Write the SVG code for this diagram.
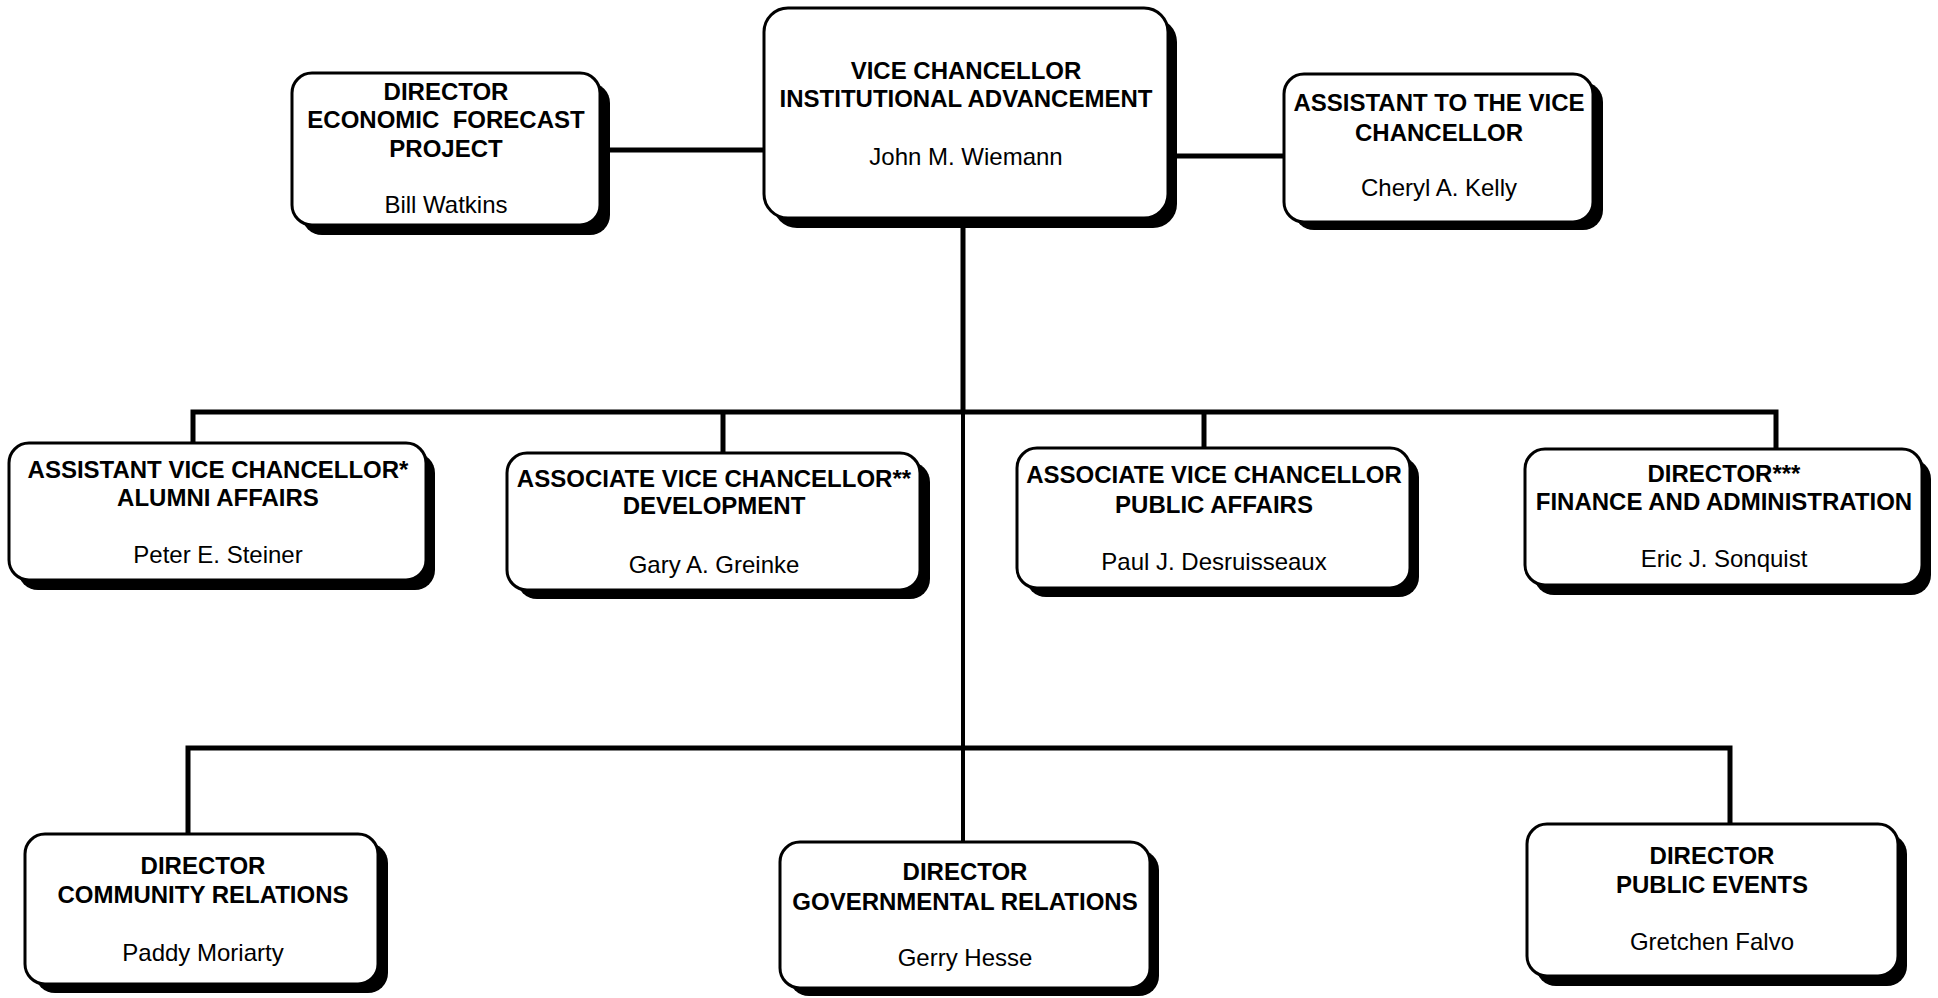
<svg xmlns="http://www.w3.org/2000/svg" width="1938" height="998" viewBox="0 0 1938 998">
<style>
.sh{fill:#000}
.bx{fill:#fff;stroke:#000;stroke-width:3}
.t{font-family:"Liberation Sans",Arial,sans-serif;font-size:24px;font-weight:bold;fill:#000;text-anchor:middle}
.n{font-family:"Liberation Sans",Arial,sans-serif;font-size:24px;fill:#000;text-anchor:middle}
.c{fill:none;stroke:#000;stroke-width:5;stroke-linejoin:miter;stroke-linecap:butt}
</style>
<rect width="1938" height="998" fill="#fff"/>
<g id="connectors">
<path class="c" d="M600,150 H764"/>
<path class="c" d="M1168,156 H1284"/>
<path class="c" d="M963,218 V412" style="stroke-width:5"/>
<path class="c" d="M963,412 V842" style="stroke-width:4"/>
<path class="c" d="M193,443 V412 H1776 V449"/>
<path class="c" d="M723,412 V453"/>
<path class="c" d="M1204,412 V448"/>
<path class="c" d="M188,834 V748 H1730 V824"/>
</g>
<g id="econ">
<rect class="sh" x="302" y="83" width="308" height="152" rx="20"/>
<rect class="bx" x="292" y="73" width="308" height="152" rx="20"/>
<text class="t" x="446" y="100">DIRECTOR</text>
<text class="t" x="446" y="128" xml:space="preserve">ECONOMIC  FORECAST</text>
<text class="t" x="446" y="157">PROJECT</text>
<text class="n" x="446" y="213">Bill Watkins</text>
</g>
<g id="vc">
<rect class="sh" x="773" y="18" width="404" height="210" rx="24"/>
<rect class="bx" x="764" y="8" width="404" height="210" rx="24"/>
<text class="t" x="966" y="79">VICE CHANCELLOR</text>
<text class="t" x="966" y="107">INSTITUTIONAL ADVANCEMENT</text>
<text class="n" x="966" y="165">John M. Wiemann</text>
</g>
<g id="asst">
<rect class="sh" x="1294" y="82" width="309" height="148" rx="20"/>
<rect class="bx" x="1284" y="74" width="309" height="148" rx="20"/>
<text class="t" x="1439" y="111">ASSISTANT TO THE VICE</text>
<text class="t" x="1439" y="141">CHANCELLOR</text>
<text class="n" x="1439" y="196">Cheryl A. Kelly</text>
</g>
<g id="alumni">
<rect class="sh" x="18" y="453" width="417" height="137" rx="20"/>
<rect class="bx" x="9" y="443" width="417" height="137" rx="20"/>
<text class="t" x="218" y="478">ASSISTANT VICE CHANCELLOR*</text>
<text class="t" x="218" y="506">ALUMNI AFFAIRS</text>
<text class="n" x="218" y="563">Peter E. Steiner</text>
</g>
<g id="dev">
<rect class="sh" x="517" y="462" width="413" height="137" rx="20"/>
<rect class="bx" x="507" y="453" width="413" height="137" rx="20"/>
<text class="t" x="714" y="487">ASSOCIATE VICE CHANCELLOR**</text>
<text class="t" x="714" y="514">DEVELOPMENT</text>
<text class="n" x="714" y="573">Gary A. Greinke</text>
</g>
<g id="pubaff">
<rect class="sh" x="1026" y="457" width="393" height="140" rx="20"/>
<rect class="bx" x="1017" y="448" width="393" height="140" rx="20"/>
<text class="t" x="1214" y="483">ASSOCIATE VICE CHANCELLOR</text>
<text class="t" x="1214" y="513">PUBLIC AFFAIRS</text>
<text class="n" x="1214" y="570">Paul J. Desruisseaux</text>
</g>
<g id="finance">
<rect class="sh" x="1534" y="459" width="397" height="136" rx="20"/>
<rect class="bx" x="1525" y="449" width="397" height="136" rx="20"/>
<text class="t" x="1724" y="482">DIRECTOR***</text>
<text class="t" x="1724" y="510">FINANCE AND ADMINISTRATION</text>
<text class="n" x="1724" y="567">Eric J. Sonquist</text>
</g>
<g id="community">
<rect class="sh" x="35" y="843" width="353" height="150" rx="20"/>
<rect class="bx" x="25" y="834" width="353" height="150" rx="20"/>
<text class="t" x="203" y="874">DIRECTOR</text>
<text class="t" x="203" y="903">COMMUNITY RELATIONS</text>
<text class="n" x="203" y="961">Paddy Moriarty</text>
</g>
<g id="gov">
<rect class="sh" x="789" y="850" width="370" height="146" rx="20"/>
<rect class="bx" x="780" y="842" width="370" height="146" rx="20"/>
<text class="t" x="965" y="880">DIRECTOR</text>
<text class="t" x="965" y="910">GOVERNMENTAL RELATIONS</text>
<text class="n" x="965" y="966">Gerry Hesse</text>
</g>
<g id="events">
<rect class="sh" x="1536" y="834" width="371" height="152" rx="20"/>
<rect class="bx" x="1527" y="824" width="371" height="152" rx="20"/>
<text class="t" x="1712" y="864">DIRECTOR</text>
<text class="t" x="1712" y="893">PUBLIC EVENTS</text>
<text class="n" x="1712" y="950">Gretchen Falvo</text>
</g>
</svg>
